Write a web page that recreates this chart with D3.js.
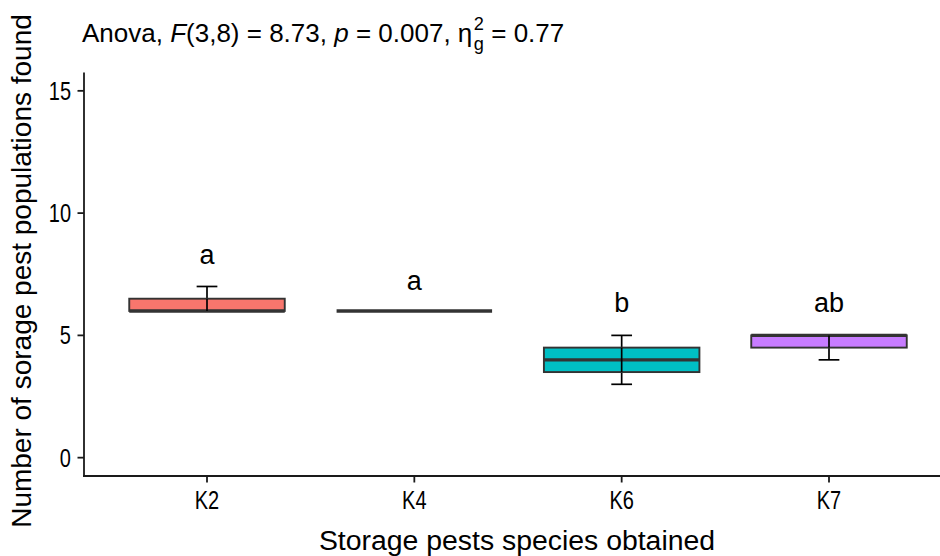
<!DOCTYPE html>
<html><head><meta charset="utf-8">
<script src="https://cdn.jsdelivr.net/npm/d3@7"></script>
<style>body{margin:0;background:#fff} text{font-family:"Liberation Sans",Arial,sans-serif;fill:#000;white-space:pre}</style>
</head><body><svg id="c" width="940" height="556"></svg>
<script>
const categories = ["K2","K4","K6","K7"];
const lowerWhisker = [6, 6, 3, 4];
const q1 = [6, 6, 3.5, 4.5];
const median = [6, 6, 4, 5];
const q3 = [6.5, 6, 4.5, 5];
const upperWhisker = [7, 6, 5, 5];
const letters = ["a","a","b","ab"];
const letterY = [8.3, 7.25, 6.35, 6.35];
const fills = ["#F8766D","#7CAE00","#00BFC4","#C77CFF"];
const yTicks = [0, 5, 10, 15];

const svg = d3.select("#c");
const x = d3.scalePoint().domain(categories).range([207, 829]);
const y = d3.scaleLinear().domain([-0.75, 15.75]).range([476, 72.5]);
const step = x.step();
const boxW = 0.75 * step, capW = 0.1 * step;

const data = categories.map((c,i)=>({c, lo:lowerWhisker[i], q1:q1[i], med:median[i], q3:q3[i], hi:upperWhisker[i], lab:letters[i], ly:letterY[i], fill:fills[i]}));

// error bars (whiskers)
const eb = svg.append("g").attr("stroke","#000").attr("stroke-width",1.7).attr("fill","none");
data.forEach(d=>{
  const cx = x(d.c);
  eb.append("line").attr("x1",cx).attr("x2",cx).attr("y1",y(d.lo)).attr("y2",y(d.hi));
  eb.append("line").attr("x1",cx-capW/2).attr("x2",cx+capW/2).attr("y1",y(d.lo)).attr("y2",y(d.lo));
  eb.append("line").attr("x1",cx-capW/2).attr("x2",cx+capW/2).attr("y1",y(d.hi)).attr("y2",y(d.hi));
});

// boxes
const bx = svg.append("g");
data.forEach(d=>{
  const cx = x(d.c);
  bx.append("rect").attr("x",cx-boxW/2).attr("width",boxW)
    .attr("y",y(d.q3)).attr("height",Math.max(0,y(d.q1)-y(d.q3)))
    .attr("fill",d.fill).attr("stroke","#333333").attr("stroke-width",1.9);
  bx.append("line").attr("x1",cx-boxW/2).attr("x2",cx+boxW/2).attr("y1",y(d.med)).attr("y2",y(d.med))
    .attr("stroke","#333333").attr("stroke-width",3.4);
});
// whisker parts visible on top of box fill
const eb2 = svg.append("g").attr("stroke","#000").attr("stroke-width",1.7);
data.forEach(d=>{
  const cx = x(d.c);
  eb2.append("line").attr("x1",cx).attr("x2",cx).attr("y1",y(d.q3)).attr("y2",y(d.q1));
});

// letters
svg.append("g").selectAll("text").data(data).join("text")
  .attr("x",d=>x(d.c)).attr("y",d=>y(d.ly)).attr("dy","0.36em")
  .attr("text-anchor","middle").attr("font-size",27).text(d=>d.lab);

// axes
const ax = svg.append("g").attr("stroke","#1a1a1a").attr("stroke-width",1.8);
ax.append("line").attr("x1",84).attr("x2",84).attr("y1",y(15.75)).attr("y2",476.9);
ax.append("line").attr("x1",83.1).attr("x2",940).attr("y1",476).attr("y2",476);
yTicks.forEach(t=>{
  ax.append("line").attr("x1",77.5).attr("x2",84).attr("y1",y(t)).attr("y2",y(t));
  svg.append("text").attr("transform",`translate(71,${y(t)}) scale(0.8,1)`).attr("dy","0.36em").attr("text-anchor","end")
    .attr("font-size",25).attr("fill","#222").text(t);
});
categories.forEach(c=>{
  ax.append("line").attr("x1",x(c)).attr("x2",x(c)).attr("y1",476).attr("y2",482.5);
  svg.append("text").attr("transform",`translate(${x(c)},509) scale(0.8,1)`).attr("text-anchor","middle")
    .attr("font-size",25).attr("fill","#222").text(c);
});

// axis titles
svg.append("text").attr("x",517).attr("y",550).attr("text-anchor","middle").attr("font-size",28.4)
  .text("Storage pests species obtained");
svg.append("text").attr("transform","translate(31,271) rotate(-90)").attr("text-anchor","middle").attr("font-size",28)
  .text("Number of sorage pest populations found");

// title
const fs = 26;
const t1 = svg.append("text").attr("x",82).attr("y",42).attr("font-size",fs);
t1.append("tspan").text("Anova, ");
t1.append("tspan").attr("font-style","italic").text("F");
t1.append("tspan").text("(3,8) = 8.73, ");
t1.append("tspan").attr("font-style","italic").text("p");
t1.append("tspan").text(" = 0.007, ");
t1.append("tspan").text("\u03B7");
const w1 = t1.node().getComputedTextLength();
const sx = 82 + w1 + 1.5;
svg.append("text").attr("x",sx).attr("y",30).attr("font-size",fs*0.7).text("2");
svg.append("text").attr("x",sx).attr("y",50).attr("font-size",fs*0.7).text("g");
svg.append("text").attr("x",sx + fs*0.7*0.56).attr("y",42).attr("font-size",fs).text(" = 0.77");
</script></body></html>
